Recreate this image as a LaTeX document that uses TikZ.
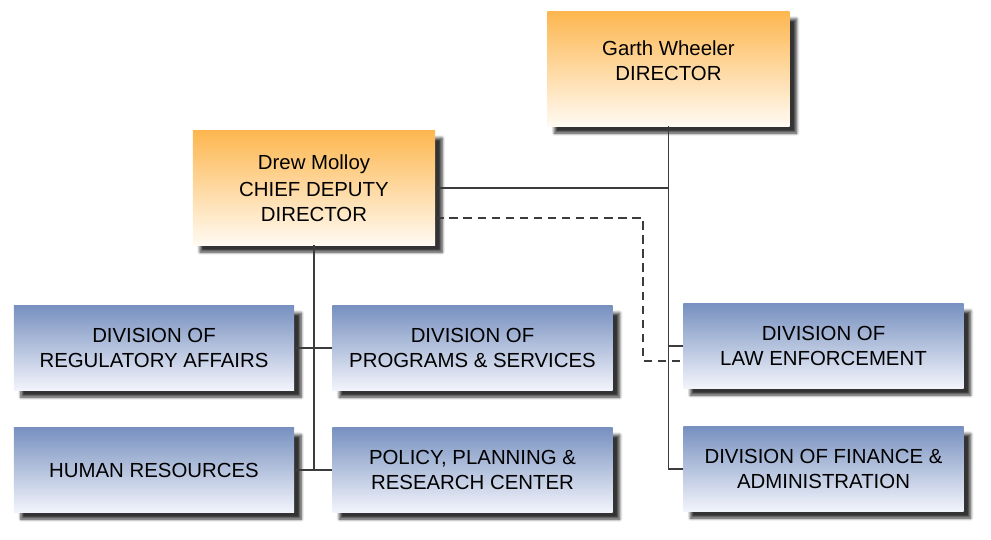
\documentclass[tikz,border=0pt]{standalone}
\usepackage{fontspec}
\setmainfont{Liberation Sans}
\usepackage{xcolor}
\usetikzlibrary{positioning, calc, shadows.blur}

\definecolor{headtop}{RGB}{253,183,80}
\definecolor{headbot}{RGB}{255,250,242}
\definecolor{unittop}{RGB}{120,145,192}
\definecolor{unitbot}{RGB}{242,244,251}
\definecolor{linegray}{RGB}{60,60,60}

\begin{document}
\begin{tikzpicture}[
  x=0.025cm, y=-0.025cm,
  box/.style={rectangle, align=center, inner sep=2pt,
    font=\fontsize{14.5}{17.5}\selectfont,
    blur shadow={shadow xshift=5pt, shadow yshift=-5pt, shadow opacity=80, shadow blur steps=6}},
  head/.style={box, top color=headtop, bottom color=headbot, minimum width=6.05cm, minimum height=2.85cm},
  unit/.style={box, top color=unittop, bottom color=unitbot, minimum width=7cm, minimum height=2.1cm},
  link/.style={draw=linegray, line width=0.8pt},
  dashlink/.style={draw=linegray, line width=0.8pt, dash pattern=on 6pt off 4pt}
]
\useasboundingbox (0,0) rectangle (991,539);

\node[head] (director) at (668.5, 69) {Garth Wheeler\\DIRECTOR\\[-6pt]};
\node[head] (deputy) at (314, 188) {Drew Molloy\\[2pt]CHIEF DEPUTY\\DIRECTOR};

\node[unit] (regulatory) at (154, 348) {DIVISION OF\\REGULATORY AFFAIRS};
\node[unit] (programs) at (472.5, 348) {DIVISION OF\\PROGRAMS \& SERVICES};
\node[unit] (hr) at (154, 470) {HUMAN RESOURCES};
\node[unit] (policy) at (472.5, 470) {POLICY, PLANNING \&\\RESEARCH CENTER};
\node[unit] (law) at (823.5, 346) {DIVISION OF\\LAW ENFORCEMENT};
\node[unit] (finance) at (823.5, 469) {DIVISION OF FINANCE \&\\ADMINISTRATION};

% director's lines
\draw[link] (director.south) |- (finance.west);
\draw[link] (director.south) |- (law.west);
\draw[link] (deputy.east) -| (director.south);

% deputy's lines
\draw[link] (deputy.south) |- (regulatory.east);
\draw[link] (deputy.south) |- (programs.west);
\draw[link] (deputy.south) |- (hr.east);
\draw[link] (deputy.south) |- (policy.west);

% dotted reporting line
\coordinate (bend) at (643, 218);
\draw[dashlink] (deputy.east |- bend) -- (bend) |- ($(law.west)+(0,15)$);
\end{tikzpicture}
\end{document}
